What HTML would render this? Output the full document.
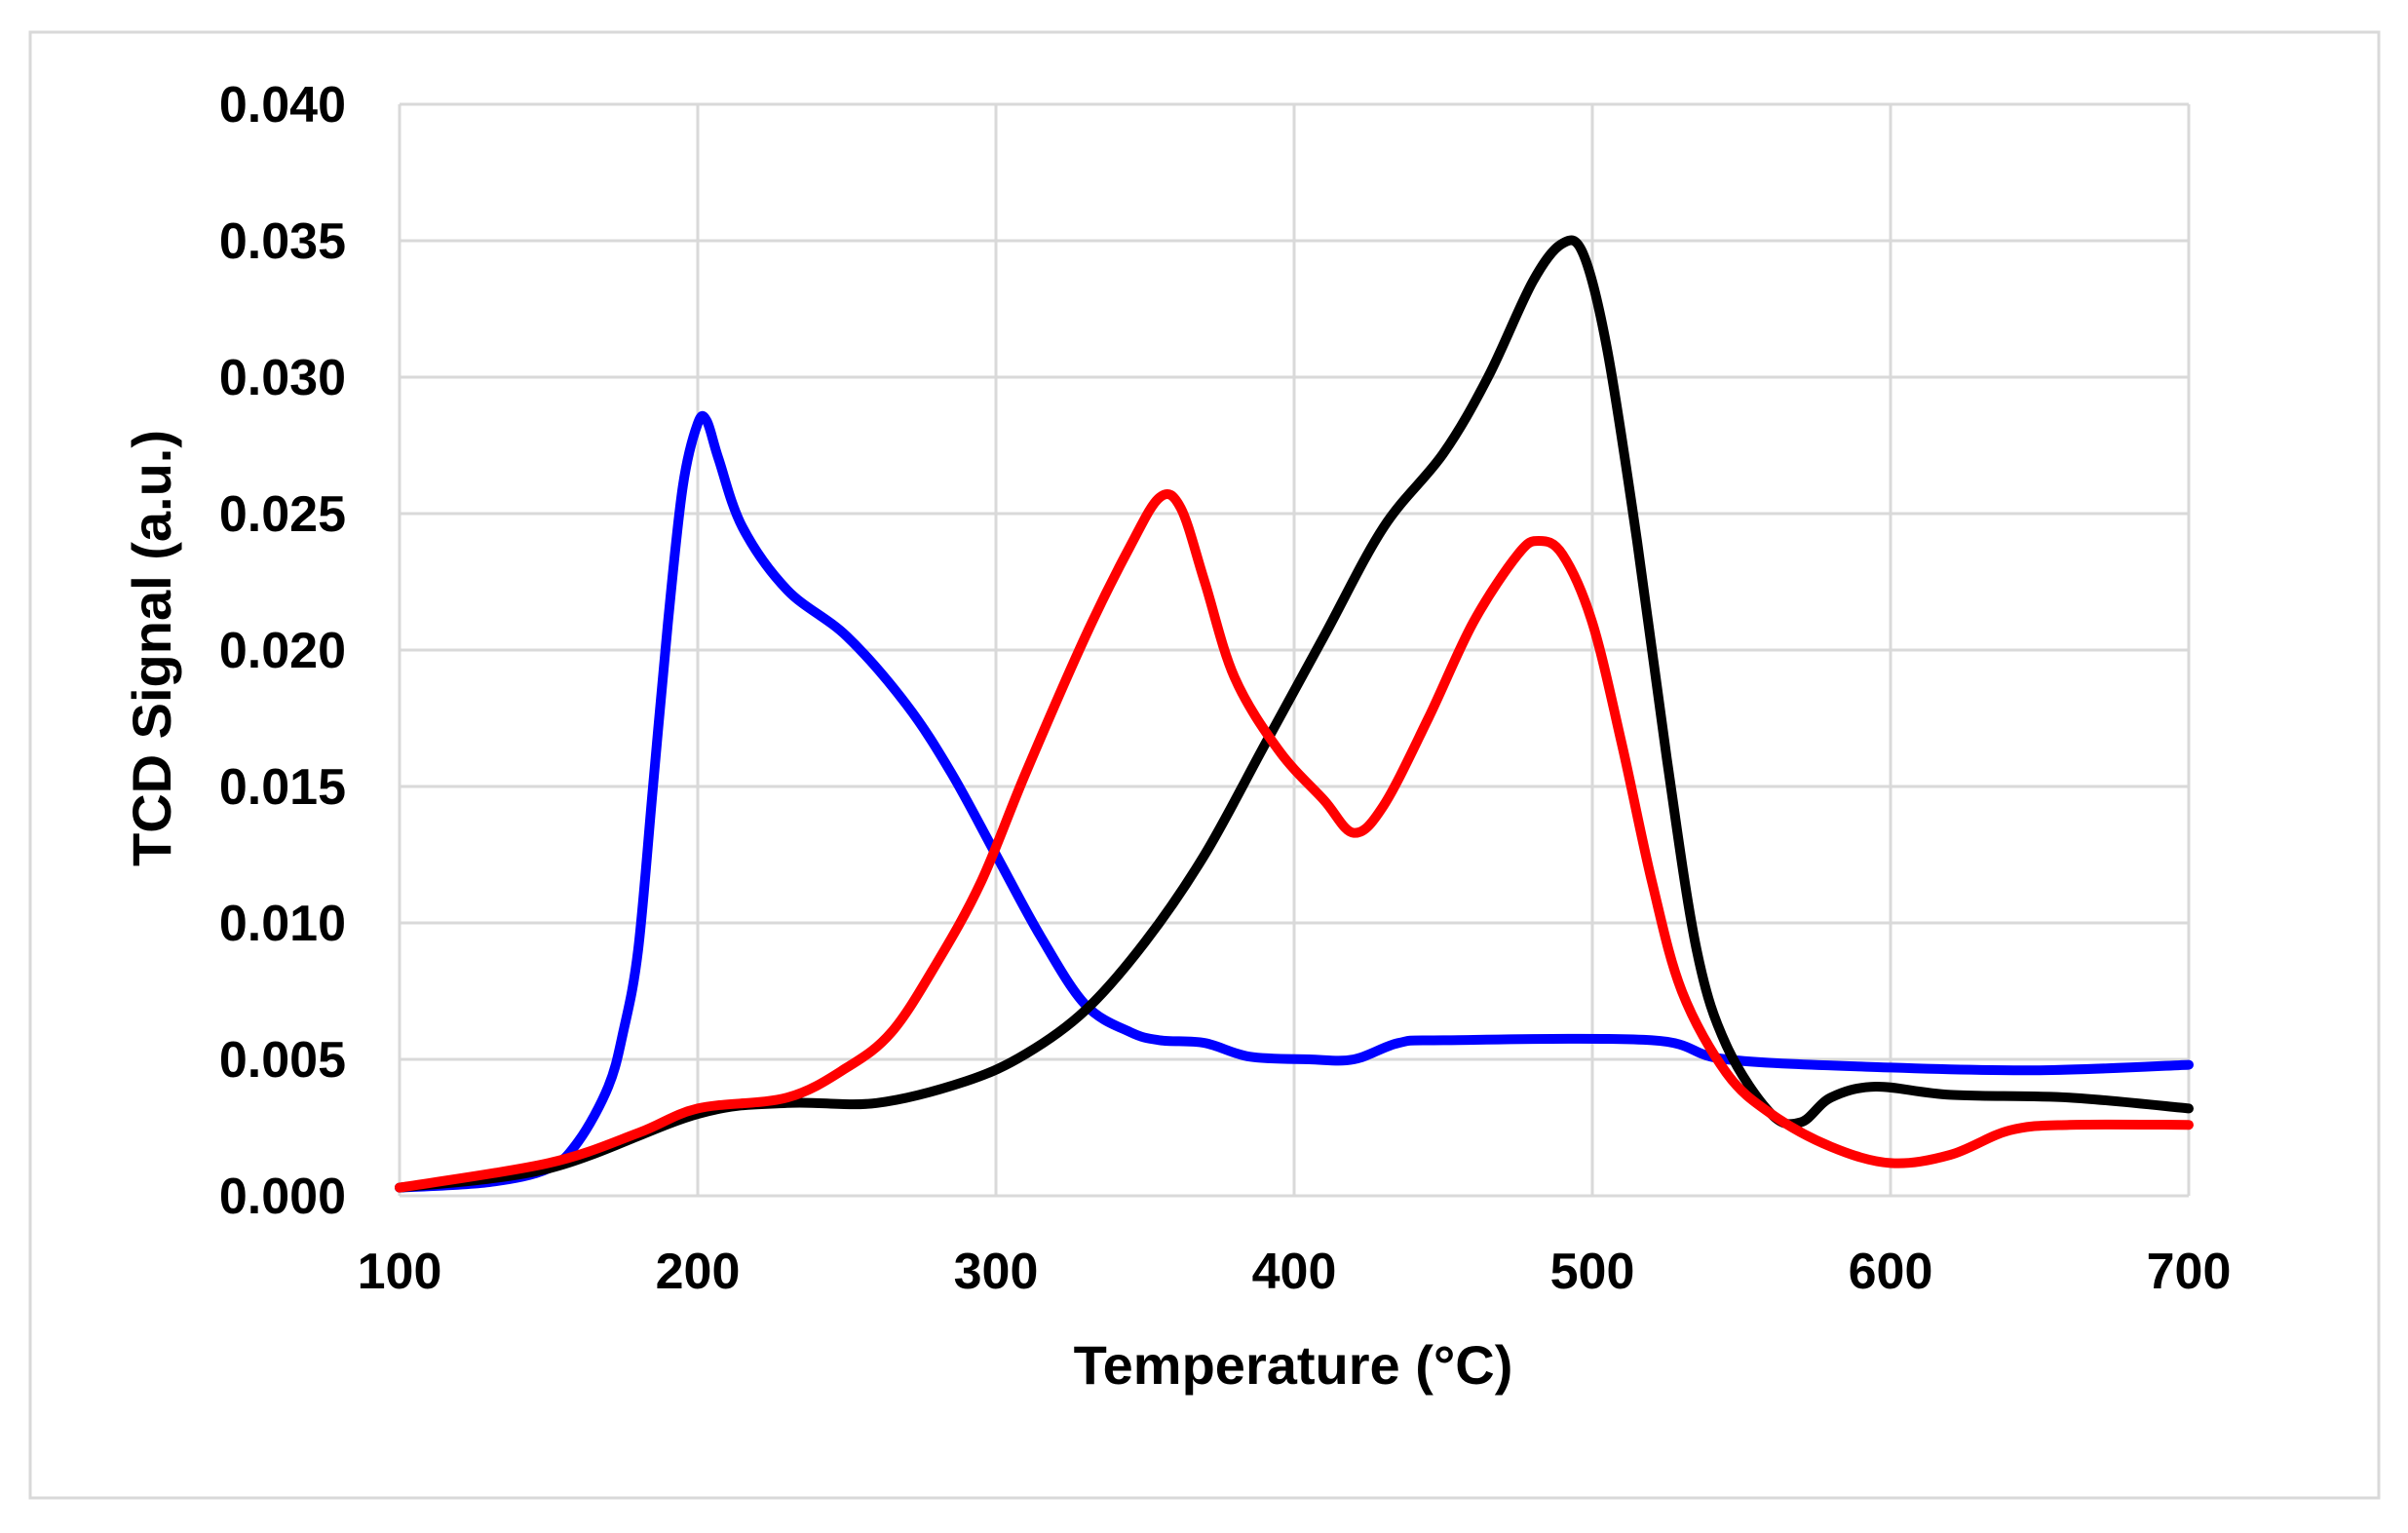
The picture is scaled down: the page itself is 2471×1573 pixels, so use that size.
<!DOCTYPE html>
<html><head><meta charset="utf-8"><style>
html,body{margin:0;padding:0;background:#fff}
svg{display:block}
text{font-family:"Liberation Sans",sans-serif;font-weight:bold;fill:#000}
</style></head><body>
<svg id="s" width="2471" height="1573" viewBox="0 0 2471 1573" xmlns="http://www.w3.org/2000/svg">
<rect x="31" y="33" width="2410" height="1504" fill="#fff" stroke="#d9d9d9" stroke-width="3"/>
<g id="grid" stroke="#d9d9d9" stroke-width="3"></g>
<g id="lab" font-size="52"></g>
<text x="1327" y="1420" font-size="56" text-anchor="middle">Temperature (°C)</text>
<text transform="translate(175,665) rotate(-90)" font-size="56" text-anchor="middle">TCD Signal (a.u.)</text>
<g id="series" fill="none" stroke-width="10" stroke-linejoin="round" stroke-linecap="round"></g>
</svg>
<script>
var X=function(t){return 410+(t-100)*3.06;};
var Y=function(v){return 1227-v*28000;};
var ns="http://www.w3.org/2000/svg";
var g=document.getElementById('grid'),lab=document.getElementById('lab');
function el(p,tag,a,txt){var e=document.createElementNS(ns,tag);for(var k in a)e.setAttribute(k,a[k]);if(txt)e.textContent=txt;p.appendChild(e);return e;}
for(var i=0;i<=8;i++){var y=Y(i*0.005);el(g,'line',{x1:410,x2:2246,y1:y,y2:y});
 el(lab,'text',{x:355,y:y+18,'text-anchor':'end'},(i*0.005).toFixed(3));}
for(var t=100;t<=700;t+=100){var x=X(t);el(g,'line',{x1:x,x2:x,y1:107,y2:1227});
 el(lab,'text',{x:x,y:1322,'text-anchor':'middle'},String(t));}
var B=[[100,0.0003],[130,0.0005],[150,0.001],[160,0.002],[170,0.004],[175,0.006],[180,0.009],[185,0.015],[190,0.021],[195,0.026],[200,0.0283],[203,0.0284],[207,0.027],[215,0.0245],[230,0.0222],[250,0.0205],[270,0.018],[285,0.0155],[300,0.0125],[315,0.0095],[330,0.007],[345,0.006],[355,0.0057],[370,0.0056],[385,0.0051],[405,0.005],[420,0.005],[435,0.0056],[450,0.0057],[520,0.0057],[545,0.005],[600,0.0047],[650,0.0046],[700,0.0048]];
var K=[[100,0.0003],[150,0.001],[200,0.003],[230,0.0034],[260,0.0034],[290,0.0042],[310,0.0052],[330,0.0068],[350,0.0093],[370,0.0125],[390,0.0165],[410,0.0205],[430,0.0245],[450,0.0272],[465,0.03],[480,0.0335],[490,0.0349],[497,0.0345],[505,0.031],[515,0.024],[525,0.016],[535,0.009],[545,0.0055],[560,0.003],[570,0.0027],[580,0.0036],[595,0.004],[620,0.0037],[660,0.0036],[700,0.0032]];
var R=[[100,0.0003],[150,0.0012],[180,0.0023],[200,0.0032],[230,0.0036],[250,0.0047],[265,0.006],[280,0.0085],[295,0.0115],[310,0.0155],[330,0.0205],[345,0.0238],[355,0.0256],[362,0.0252],[370,0.0225],[380,0.019],[395,0.0163],[410,0.0145],[420,0.0133],[430,0.0143],[445,0.0175],[460,0.021],[475,0.0235],[482,0.024],[490,0.0235],[500,0.021],[510,0.0165],[520,0.0115],[530,0.0075],[545,0.0045],[560,0.003],[580,0.0018],[600,0.0012],[620,0.0015],[640,0.0024],[660,0.0026],[700,0.0026]];
var sg=document.getElementById('series');
function path(d,c){var p=d.map(function(q){return [X(q[0]),Y(q[1])];});
 var s='M'+p[0][0]+','+p[0][1];
 for(var i=0;i<p.length-1;i++){var p0=p[i-1]||p[i],p1=p[i],p2=p[i+1],p3=p[i+2]||p2;
  s+=' C'+(p1[0]+(p2[0]-p0[0])/6)+','+(p1[1]+(p2[1]-p0[1])/6)+' '+(p2[0]-(p3[0]-p1[0])/6)+','+(p2[1]-(p3[1]-p1[1])/6)+' '+p2[0]+','+p2[1];}
 el(sg,'path',{d:s,stroke:c});}
path(B,'#0000ff');path(K,'#000000');path(R,'#ff0000');
</script>
</body></html>
